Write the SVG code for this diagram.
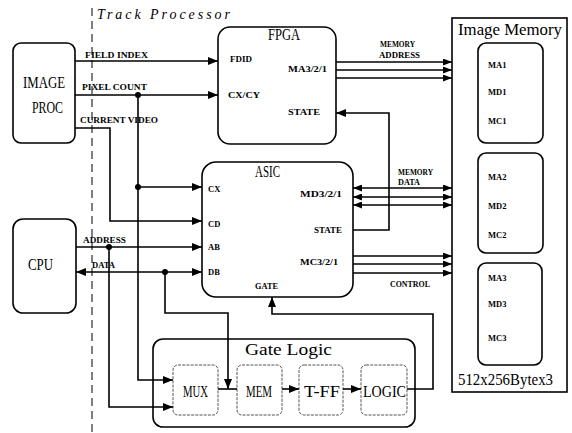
<svg xmlns="http://www.w3.org/2000/svg" width="572" height="433" viewBox="0 0 572 433">
<style>
.box{fill:#fff;stroke:#000;stroke-width:1.6}
.sub{fill:#fff;stroke:#555;stroke-width:1;stroke-dasharray:3 1.2}
.ln{fill:none;stroke:#000;stroke-width:1.6}
.lbl{font-family:"Liberation Serif",serif;font-weight:bold;font-size:8.5px;fill:#000}
.ttl{font-family:"Liberation Serif",serif;font-size:16px;fill:#000}
.dot{fill:#000}
</style>
<defs>
<marker id="ah" markerUnits="userSpaceOnUse" markerWidth="10" markerHeight="8" refX="10" refY="4" orient="auto-start-reverse"><path d="M0,0 L10,4 L0,8 z" fill="#000"/></marker>
<marker id="sh" markerUnits="userSpaceOnUse" markerWidth="9" markerHeight="7" refX="9" refY="3.5" orient="auto-start-reverse"><path d="M0,0 L9,3.5 L0,7 z" fill="#000"/></marker>
</defs>

<line x1="92" y1="8" x2="92" y2="433" stroke="#000" stroke-width="1" stroke-dasharray="8 5"/>
<text x="97" y="19" font-family="Liberation Serif,serif" font-style="italic" font-size="14" textLength="133" lengthAdjust="spacing">Track Processor</text>

<g id="imageproc">
<rect class="box" x="13" y="43" width="62" height="100" rx="8"/>
<text class="ttl" x="23" y="88" textLength="42" lengthAdjust="spacingAndGlyphs">IMAGE</text>
<text class="ttl" x="32" y="113" textLength="31" lengthAdjust="spacingAndGlyphs">PROC</text>
</g>

<g id="cpu">
<rect class="box" x="13" y="219" width="63" height="94" rx="10"/>
<text class="ttl" x="28" y="270" textLength="25" lengthAdjust="spacingAndGlyphs">CPU</text>
</g>

<g id="fpga">
<rect class="box" x="218" y="27" width="118" height="117" rx="12"/>
<text class="ttl" x="268" y="40" font-size="17" textLength="32" lengthAdjust="spacingAndGlyphs">FPGA</text>
<text class="lbl" x="230" y="62" textLength="22" lengthAdjust="spacingAndGlyphs">FDID</text>
<text class="lbl" x="228" y="98" textLength="32" lengthAdjust="spacingAndGlyphs">CX/CY</text>
<text class="lbl" x="288" y="72" textLength="39" lengthAdjust="spacingAndGlyphs">MA3/2/1</text>
<text class="lbl" x="288" y="115" textLength="32" lengthAdjust="spacingAndGlyphs">STATE</text>
</g>

<g id="asic">
<rect class="box" x="202" y="162" width="151" height="135" rx="14"/>
<text class="ttl" x="255" y="177" font-size="17" textLength="25" lengthAdjust="spacingAndGlyphs">ASIC</text>
<text class="lbl" x="208" y="192">CX</text>
<text class="lbl" x="208" y="227">CD</text>
<text class="lbl" x="208" y="250">AB</text>
<text class="lbl" x="208" y="275">DB</text>
<text class="lbl" x="255" y="289" textLength="23" lengthAdjust="spacingAndGlyphs">GATE</text>
<text class="lbl" x="300" y="197" textLength="42" lengthAdjust="spacingAndGlyphs">MD3/2/1</text>
<text class="lbl" x="314" y="233" textLength="28" lengthAdjust="spacingAndGlyphs">STATE</text>
<text class="lbl" x="300" y="265" textLength="38" lengthAdjust="spacingAndGlyphs">MC3/2/1</text>
</g>

<g id="imagememory">
<rect x="452" y="18" width="115" height="374" fill="#fff" stroke="#000" stroke-width="1.6"/>
<text class="ttl" x="458" y="35" font-size="15" textLength="104" lengthAdjust="spacingAndGlyphs">Image Memory</text>
<text class="ttl" x="458" y="385" font-size="14" textLength="95" lengthAdjust="spacingAndGlyphs">512x256Bytex3</text>
</g>
<g id="mem1">
<rect class="box" x="478" y="43" width="65" height="100" rx="8"/>
<text class="lbl" x="488" y="68">MA1</text>
<text class="lbl" x="488" y="95">MD1</text>
<text class="lbl" x="488" y="124">MC1</text>
</g>
<g id="mem2">
<rect class="box" x="478" y="153" width="65" height="100" rx="8"/>
<text class="lbl" x="488" y="180">MA2</text>
<text class="lbl" x="488" y="209">MD2</text>
<text class="lbl" x="488" y="238">MC2</text>
</g>
<g id="mem3">
<rect class="box" x="478" y="263" width="64" height="102" rx="8"/>
<text class="lbl" x="488" y="281">MA3</text>
<text class="lbl" x="488" y="307">MD3</text>
<text class="lbl" x="488" y="341">MC3</text>
</g>

<g id="gatelogic">
<rect class="box" x="153" y="339" width="262" height="88" rx="10"/>
<text class="ttl" x="245" y="355" font-size="15" textLength="87" lengthAdjust="spacingAndGlyphs">Gate Logic</text>
</g>
<g id="mux">
<rect class="sub" x="173" y="365" width="45" height="50" rx="5"/>
<text class="ttl" x="183" y="397" font-size="14" textLength="25" lengthAdjust="spacingAndGlyphs">MUX</text>
</g>
<g id="mem">
<rect class="sub" x="237" y="365" width="45" height="50" rx="5"/>
<text class="ttl" x="246" y="397" font-size="14" textLength="26" lengthAdjust="spacingAndGlyphs">MEM</text>
</g>
<g id="tff">
<rect class="sub" x="299" y="365" width="44" height="50" rx="5"/>
<text class="ttl" x="304" y="397" font-size="14" textLength="36" lengthAdjust="spacingAndGlyphs">T-FF</text>
</g>
<g id="logic">
<rect class="sub" x="361" y="365" width="46" height="50" rx="5"/>
<text class="ttl" x="363" y="397" font-size="14" textLength="43" lengthAdjust="spacingAndGlyphs">LOGIC</text>
</g>

<g id="connectors">
<path class="ln" d="M75,61 H218" marker-end="url(#ah)"/>
<path class="ln" d="M75,95 H218" marker-end="url(#ah)"/>
<path class="ln" d="M75,128 H110 V221 H202" marker-end="url(#ah)"/>
<path class="ln" d="M138,95 V380 H173" marker-end="url(#ah)"/>
<path class="ln" d="M138,187 H202" marker-end="url(#ah)"/>
<path class="ln" d="M76,247 H202" marker-end="url(#ah)"/>
<path class="ln" d="M109,247 V407 H173" marker-end="url(#ah)"/>
<path class="ln" d="M76,272 H202" marker-start="url(#ah)" marker-end="url(#ah)"/>
<path class="ln" d="M165,272 V313 H228 V389" marker-end="url(#ah)"/>
<path class="ln" d="M218,389 H237"/>
<path class="ln" d="M282,389 H299" marker-end="url(#ah)"/>
<path class="ln" d="M343,389 H361" marker-end="url(#ah)"/>
<path class="ln" d="M407,389 H433 V314 H272 V297" marker-end="url(#ah)"/>
<path class="ln" d="M336,62 H452" marker-end="url(#sh)"/>
<path class="ln" d="M336,70 H452" marker-end="url(#sh)"/>
<path class="ln" d="M336,78 H452" marker-end="url(#sh)"/>
<path class="ln" d="M353,188 H452" marker-start="url(#sh)" marker-end="url(#sh)"/>
<path class="ln" d="M353,197 H452" marker-start="url(#sh)" marker-end="url(#sh)"/>
<path class="ln" d="M353,205 H452" marker-start="url(#sh)" marker-end="url(#sh)"/>
<path class="ln" d="M353,256 H452" marker-end="url(#sh)"/>
<path class="ln" d="M353,264 H452" marker-end="url(#sh)"/>
<path class="ln" d="M353,273 H452" marker-end="url(#sh)"/>
<path class="ln" d="M353,230 H389 V113 H336" marker-end="url(#ah)"/>
<circle class="dot" cx="138" cy="95" r="3"/>
<circle class="dot" cx="138" cy="187" r="3"/>
<circle class="dot" cx="109" cy="247" r="3"/>
<circle class="dot" cx="165" cy="272" r="3"/>
<text class="lbl" x="85" y="58" textLength="63" lengthAdjust="spacingAndGlyphs">FIELD INDEX</text>
<text class="lbl" x="82" y="90" textLength="65" lengthAdjust="spacingAndGlyphs">PIXEL COUNT</text>
<text class="lbl" x="80" y="123" textLength="78" lengthAdjust="spacingAndGlyphs">CURRENT VIDEO</text>
<text class="lbl" x="83" y="243" textLength="43" lengthAdjust="spacingAndGlyphs">ADDRESS</text>
<text class="lbl" x="92" y="268" textLength="23" lengthAdjust="spacingAndGlyphs">DATA</text>
<text class="lbl" x="380" y="47" font-size="7.5" textLength="35" lengthAdjust="spacingAndGlyphs">MEMORY</text>
<text class="lbl" x="379" y="58" font-size="7.5" textLength="41" lengthAdjust="spacingAndGlyphs">ADDRESS</text>
<text class="lbl" x="398" y="175" font-size="7.5" textLength="35" lengthAdjust="spacingAndGlyphs">MEMORY</text>
<text class="lbl" x="398" y="185" font-size="7.5" textLength="22" lengthAdjust="spacingAndGlyphs">DATA</text>
<text class="lbl" x="390" y="287" textLength="40" lengthAdjust="spacingAndGlyphs">CONTROL</text>
</g>
</svg>
